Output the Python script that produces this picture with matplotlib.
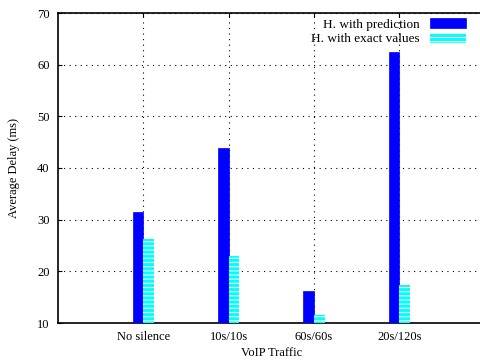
import matplotlib
matplotlib.use('Agg')
import matplotlib.pyplot as plt
import numpy as np

# Data
categories = ['No silence', '10s/10s', '60s/60s', '20s/120s']
with_prediction = [31.5, 43.8, 16.2, 62.4]
with_exact = [26.2, 23.0, 11.6, 17.3]

plt.rcParams['font.family'] = ['Liberation Serif', 'DejaVu Serif']
plt.rcParams['font.size'] = 9
plt.rcParams['hatch.linewidth'] = 2.2

fig = plt.figure(figsize=(4.8, 3.64), dpi=100)
ax = fig.add_axes([58 / 480, (364 - 323) / 364, 1 - 58 / 480 + 0.01, 310 / 364])

x = np.arange(len(categories))
w = 0.125

ax.bar(x - w / 2, np.array(with_prediction) - 10, w, bottom=10,
       color='#0000ff', edgecolor='#0000ff', linewidth=0.5,
       label='H. with prediction', zorder=3)
ax.bar(x + w / 2, np.array(with_exact) - 10, w, bottom=10,
       facecolor='white', edgecolor='#00ffff', hatch='----', linewidth=0,
       label='H. with exact values', zorder=3)

ax.set_xlim(-1, 4)
ax.set_ylim(10, 70)
ax.set_xticks(x)
ax.set_xticklabels(categories)
ax.set_yticks(range(10, 71, 10))

ax.grid(True, linestyle=(0, (1, 4)), color='black', linewidth=0.8)
ax.tick_params(direction='in', length=3, top=True, right=False, pad=6)
ax.spines['right'].set_visible(False)
for s in ['left', 'bottom', 'top']:
    ax.spines[s].set_linewidth(1.2)

ax.set_xlabel('VoIP Traffic', labelpad=3)
ax.set_ylabel('Average Delay (ms)', labelpad=12)

ax.legend(loc='upper right', bbox_to_anchor=(466 / 480, (364 - 18) / 364),
          bbox_transform=fig.transFigure, frameon=False, borderpad=0,
          borderaxespad=0, markerfirst=False, handlelength=2.7,
          handleheight=0.8, handletextpad=0.8, labelspacing=0.15,
          fontsize=9.5)

fig.savefig('out.png', dpi=100)
